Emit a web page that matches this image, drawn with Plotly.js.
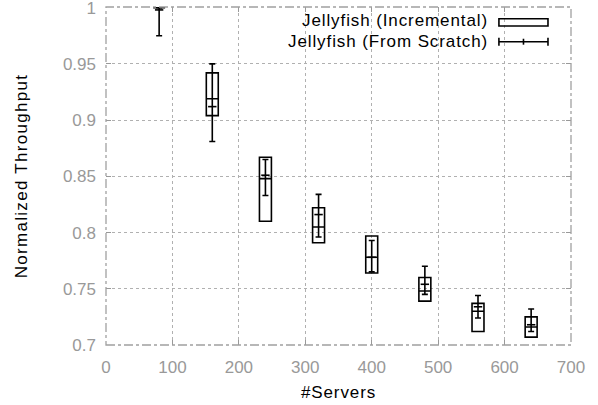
<!DOCTYPE html>
<html>
<head>
<meta charset="utf-8">
<script src="https://cdn.plot.ly/plotly-3.0.1.min.js"></script>
<style>
html,body{margin:0;padding:0;background:#fff;}
#chart{width:598px;height:405px;}
.annotation-text, .xtitle { letter-spacing: 0.9px; }
.ytitle { letter-spacing: 1.3px; }
</style>
</head>
<body>
<div id="chart"></div>
<script>
// Data
var servers = [80, 160, 240, 320, 400, 480, 560, 640];
// Jellyfish (Incremental): box bottom, median, box top
var incLow = [1.0, 0.904, 0.810, 0.791, 0.764, 0.739, 0.712, 0.707];
var incMed = [1.0, 0.919, 0.848, 0.805, 0.778, 0.748, 0.730, 0.716];
var incHigh = [1.0, 0.942, 0.867, 0.822, 0.797, 0.760, 0.737, 0.725];
// Jellyfish (From Scratch): mean, lower, upper
var scrMean = [0.998, 0.912, 0.851, 0.816, 0.778, 0.754, 0.734, 0.718];
var scrLow = [0.975, 0.881, 0.833, 0.796, 0.765, 0.745, 0.724, 0.712];
var scrHigh = [1.0, 0.950, 0.865, 0.834, 0.793, 0.770, 0.744, 0.732];

var xTickVals = [0, 100, 200, 300, 400, 500, 600, 700];
var xTickText = ['0', '100', '200', '300', '400', '500', '600', '700'];
var yTickVals = [0.7, 0.75, 0.8, 0.85, 0.9, 0.95, 1.0];
var yTickText = ['0.7', '0.75', '0.8', '0.85', '0.9', '0.95', '1'];

var seriesNames = ['Jellyfish (Incremental)', 'Jellyfish (From Scratch)'];

var boxTrace = {
  type: 'box',
  name: seriesNames[0],
  x: servers,
  q1: incLow,
  median: incMed,
  q3: incHigh,
  lowerfence: incLow,
  upperfence: incHigh,
  width: 18,
  whiskerwidth: 0,
  boxpoints: false,
  fillcolor: 'rgba(0,0,0,0)',
  line: {color: '#000', width: 1.6},
  showlegend: false,
  hoverinfo: 'skip'
};

var errPlus = scrHigh.map(function (v, i) { return v - scrMean[i]; });
var errMinus = scrMean.map(function (v, i) { return v - scrLow[i]; });

var errTrace = {
  type: 'scatter',
  mode: 'markers',
  name: seriesNames[1],
  x: servers,
  y: scrMean,
  cliponaxis: false,
  marker: {symbol: 'line-ew', size: 6, line: {color: '#000', width: 1.6}, color: '#000'},
  error_y: {type: 'data', symmetric: false, array: errPlus, arrayminus: errMinus,
            color: '#000', thickness: 1.6, width: 3},
  showlegend: false,
  hoverinfo: 'skip'
};

var tickGray = '#999999';
var fontFam = 'Liberation Sans, Arial, sans-serif';

var layout = {
  width: 598, height: 405,
  margin: {l: 106, r: 27, t: 7, b: 60},
  paper_bgcolor: '#fff', plot_bgcolor: '#fff',
  font: {family: fontFam, size: 17, color: '#000'},
  showlegend: false,
  xaxis: {
    range: [0, 700],
    tickmode: 'array', tickvals: xTickVals, ticktext: xTickText,
    tickfont: {family: fontFam, size: 17, color: tickGray},
    ticks: 'inside', ticklen: 5, tickcolor: tickGray, tickwidth: 1,
    mirror: 'ticks',
    ticklabeloverflow: 'allow',
    showline: false, zeroline: false,
    showgrid: true, gridcolor: '#b0b0b0', griddash: 'dot', gridwidth: 1,
    ticklabelstandoff: 10,
    title: {text: '#Servers', font: {family: fontFam, size: 17, color: '#000'}, standoff: 10}
  },
  yaxis: {
    range: [0.7, 1.0006],
    tickmode: 'array', tickvals: yTickVals, ticktext: yTickText,
    tickfont: {family: fontFam, size: 17, color: tickGray},
    ticks: 'inside', ticklen: 5, tickcolor: tickGray, tickwidth: 1,
    mirror: 'ticks',
    ticklabeloverflow: 'allow',
    showline: false, zeroline: false,
    showgrid: true, gridcolor: '#b0b0b0', griddash: 'dot', gridwidth: 1,
    ticklabelstandoff: 9,
    title: {text: 'Normalized Throughput', font: {family: fontFam, size: 17, color: '#000'}, standoff: 30}
  },
  shapes: [
    // legend background (hides grid behind the key)
    {type: 'rect', xref: 'paper', yref: 'paper', x0: 0.39, x1: 0.985, y0: 0.875, y1: 0.995,
     fillcolor: '#fff', line: {width: 0}, layer: 'between'},
    // frame
    {type: 'rect', xref: 'paper', yref: 'paper', x0: 0, x1: 1, y0: 0, y1: 1,
     line: {color: '#a0a0a0', width: 1.3, dash: 'dashdot'}, layer: 'above'},
    // legend sample: box
    {type: 'rect', xref: 'paper', yref: 'paper', x0: 0.845, x1: 0.9505, y0: 0.9438, y1: 0.9654,
     line: {color: '#000', width: 1.6}, fillcolor: 'rgba(0,0,0,0)'},
    // legend sample: error bar
    {type: 'line', xref: 'paper', yref: 'paper', x0: 0.845, x1: 0.9505, y0: 0.8973, y1: 0.8973,
     line: {color: '#000', width: 1.6}},
    {type: 'line', xref: 'paper', yref: 'paper', x0: 0.845, x1: 0.845, y0: 0.8855, y1: 0.9091,
     line: {color: '#000', width: 1.6}},
    {type: 'line', xref: 'paper', yref: 'paper', x0: 0.9505, x1: 0.9505, y0: 0.8855, y1: 0.9091,
     line: {color: '#000', width: 1.6}},
    {type: 'line', xref: 'paper', yref: 'paper', x0: 0.8978, x1: 0.8978, y0: 0.8885, y1: 0.9061,
     line: {color: '#000', width: 1.6}}
  ],
  annotations: [
    {xref: 'paper', yref: 'paper', x: 0.826, y: 0.9615, xanchor: 'right', yanchor: 'middle',
     text: seriesNames[0], showarrow: false, font: {family: fontFam, size: 17, color: '#000'}},
    {xref: 'paper', yref: 'paper', x: 0.826, y: 0.899, xanchor: 'right', yanchor: 'middle',
     text: seriesNames[1], showarrow: false, font: {family: fontFam, size: 17, color: '#000'}}
  ]
};

Plotly.newPlot('chart', [boxTrace, errTrace], layout, {displayModeBar: false, staticPlot: true});
</script>
</body>
</html>
